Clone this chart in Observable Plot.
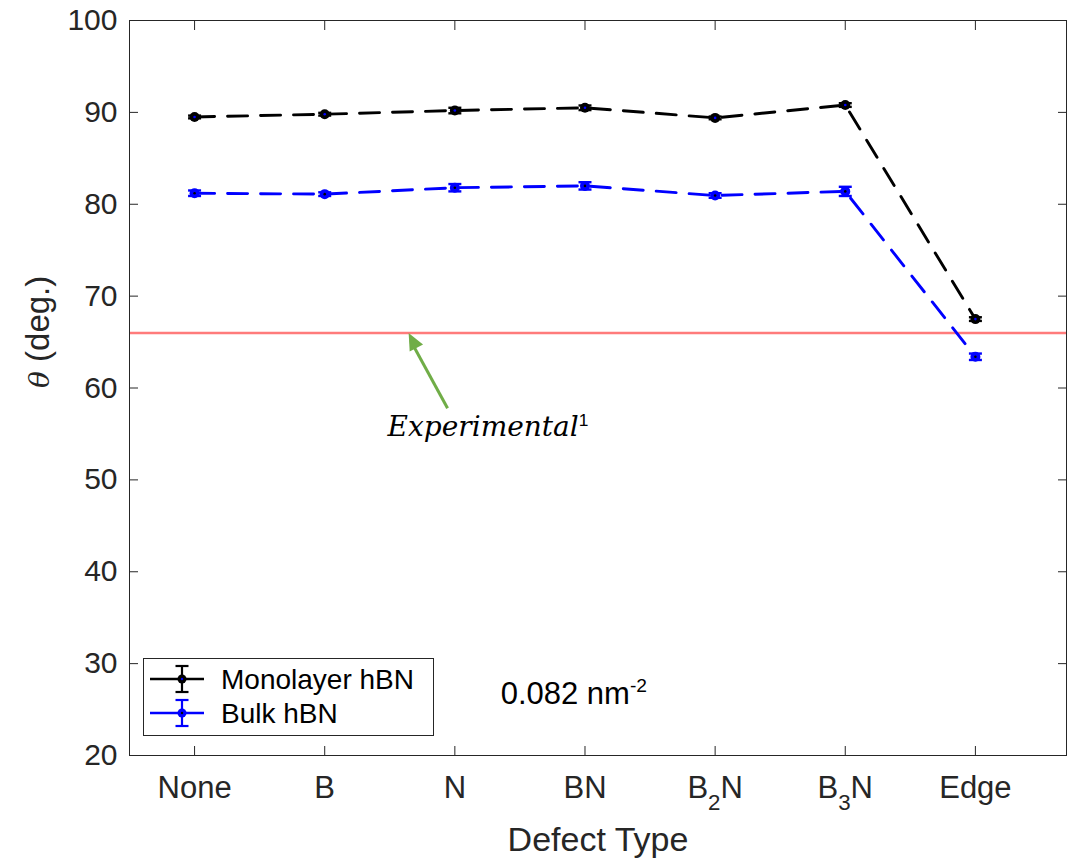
<!DOCTYPE html>
<html><head><meta charset="utf-8">
<script src="https://cdn.jsdelivr.net/npm/d3@7"></script>
<script src="https://cdn.jsdelivr.net/npm/@observablehq/plot@0.6"></script>
<style>html,body{margin:0;padding:0;background:#fff}svg{display:block}</style>
</head><body><div id="chart"></div>
<script>
// ---- data ----
const categories = ["None", "B", "N", "BN", "B₂N", "B₃N", "Edge"];
const monolayer = [89.5, 89.8, 90.2, 90.5, 89.4, 90.8, 67.5];
const monolayerErr = [0.15, 0.15, 0.3, 0.25, 0.15, 0.2, 0.2];
const bulk = [81.2, 81.1, 81.8, 82.0, 80.95, 81.4, 63.4];
const bulkErr = [0.3, 0.2, 0.4, 0.4, 0.25, 0.5, 0.35];
const experimental = [66];
const yTicks = [20, 30, 40, 50, 60, 70, 80, 90, 100];
const seriesNames = ["Monolayer hBN", "Bulk hBN"];
const seriesColors = ["#000000", "#0000ff"];
const xLabel = "Defect Type";
const yLabel = "θ (deg.)";
const densityNote = [{x: 3.352, y: 26.64, t: "0.082 nm⁻²"}];
const expNote = [{x: 2.483, y: 55.7, t: "Experimental¹"}];
const expArrow = [{x1: 2.944, y1: 57.8, x2: 2.67, y2: 64.9, tx: 2.645, ty: 66}];

// ---- build ----
const xIdx = categories.map((_, i) => i + 1);
const rows = (vals, errs) => vals.map((v, i) => ({i: i + 1, v, lo: v - errs[i], hi: v + errs[i]}));
const series = [rows(monolayer, monolayerErr), rows(bulk, bulkErr)];
const capSymbol = {draw(ctx) { ctx.moveTo(-6.5, 0); ctx.lineTo(6.5, 0); }};
const headSymbol = {draw(ctx) { ctx.moveTo(0, 0); ctx.lineTo(-7.5, 17); ctx.lineTo(7.5, 17); ctx.closePath(); }};

function seriesMarks(data, color, inner) {
  return [
    Plot.line(data, {x: "i", y: "v", stroke: color, strokeWidth: 2.9, strokeDasharray: "20 13"}),
    Plot.ruleX(data, {x: "i", y1: "lo", y2: "hi", stroke: color, strokeWidth: 2.2}),
    Plot.dot(data, {x: "i", y: "lo", symbol: capSymbol, stroke: color, strokeWidth: 2.4, fill: "none"}),
    Plot.dot(data, {x: "i", y: "hi", symbol: capSymbol, stroke: color, strokeWidth: 2.4, fill: "none"}),
    Plot.dot(data, {x: "i", y: "v", r: 5, fill: color, stroke: "none"}),
    Plot.dot(data, {x: "i", y: "v", r: 1.3, fill: inner, stroke: "none"})
  ];
}

const plot = Plot.plot({
  width: 1074, height: 860,
  marginLeft: 129, marginRight: 8, marginTop: 20, marginBottom: 105,
  style: {fontFamily: "'Liberation Sans', Arial, sans-serif", color: "#262626", background: "#fff", overflow: "visible"},
  x: {type: "linear", domain: [0.5, 7.7]},
  y: {domain: [20, 100]},
  marks: [
    Plot.ruleY(experimental, {stroke: "#ff7b7b", strokeWidth: 2.5}),
    ...seriesMarks(series[0], seriesColors[0], seriesColors[1]),
    ...seriesMarks(series[1], seriesColors[1], seriesColors[0]),
    Plot.link(expArrow, {x1: "x1", y1: "y1", x2: "x2", y2: "y2", stroke: "#70ad47", strokeWidth: 3}),
    Plot.dot(expArrow, {x: "tx", y: "ty", symbol: headSymbol, fill: "#70ad47", stroke: "none", rotate: -27}),
    Plot.text(expNote, {x: "x", y: "y", text: "t", textAnchor: "start", fontFamily: "'DejaVu Serif', serif", fontStyle: "italic", fontSize: 28, fill: "#000"}),
    Plot.text(densityNote, {x: "x", y: "y", text: "t", textAnchor: "start", fontSize: 31, fill: "#000"}),
    Plot.frame({stroke: "#262626", strokeWidth: 1}),
    Plot.axisY({ticks: yTicks, anchor: "left", tickSize: -9, tickPadding: 21, fontSize: 30, label: null, stroke: "#262626"}),
    Plot.axisY({ticks: yTicks, anchor: "right", tickSize: -9, text: null, label: null, stroke: "#262626"}),
    Plot.axisX({ticks: xIdx, anchor: "bottom", tickSize: -9, tickPadding: 29, fontSize: 31, label: null, stroke: "#262626", tickFormat: d => categories[d - 1]}),
    Plot.axisX({ticks: xIdx, anchor: "top", tickSize: -9, text: null, label: null, stroke: "#262626"}),
    Plot.text([xLabel], {frameAnchor: "bottom", dy: 71, lineAnchor: "top", fontSize: 34}),
    Plot.text([yLabel], {frameAnchor: "left", dx: -104, rotate: -90, lineAnchor: "top", fontSize: 33})
  ]
});
document.getElementById("chart").appendChild(plot);

// ---- rich text (sub/superscripts, italic theta) ----
const svg = d3.select(plot);
const subMap = {"₂": "2", "₃": "3"};
svg.selectAll("text").each(function () {
  const el = d3.select(this);
  const s = this.textContent;
  if (/[₂₃]/.test(s) && this.children.length === 0) {
    const m = s.match(/^(.*)([₂₃])(.*)$/);
    el.text(null);
    el.append("tspan").text(m[1]);
    el.append("tspan").attr("dy", 12).attr("font-size", "0.72em").text(subMap[m[2]]);
    el.append("tspan").attr("dy", -12).text(m[3]);
  } else if (s === densityNote[0].t) {
    el.text(null);
    el.append("tspan").text("0.082 nm");
    el.append("tspan").attr("dy", -12).attr("font-size", "0.62em").text("-2");
  } else if (s === expNote[0].t) {
    el.text(null);
    el.append("tspan").text("Experimental");
    el.append("tspan").attr("dy", -10).attr("font-size", "0.62em").attr("font-style", "normal")
      .attr("font-family", "'Liberation Sans', Arial, sans-serif").text("1");
  } else if (s === yLabel) {
    el.text(null);
    el.append("tspan").attr("font-style", "italic").attr("font-family", "'DejaVu Serif', serif").attr("font-size", "0.85em").text("θ");
    el.append("tspan").text(" (deg.)");
  }
});

// ---- legend (inside the axes, lower left) ----
const lg = svg.append("g").attr("font-family", "'Liberation Sans', Arial, sans-serif").attr("text-anchor", "start");
lg.append("rect").attr("x", 143.5).attr("y", 658.5).attr("width", 290).attr("height", 77)
  .attr("fill", "#fff").attr("stroke", "#262626").attr("stroke-width", 1);
const rowsY = [679, 713];
seriesNames.forEach((name, k) => {
  const y = rowsY[k], c = seriesColors[k], inner = seriesColors[1 - k];
  lg.append("line").attr("x1", 150).attr("x2", 204).attr("y1", y).attr("y2", y).attr("stroke", c).attr("stroke-width", 2.6);
  lg.append("line").attr("x1", 182).attr("x2", 182).attr("y1", y - 13).attr("y2", y + 13).attr("stroke", c).attr("stroke-width", 2.2);
  lg.append("line").attr("x1", 175.5).attr("x2", 188.5).attr("y1", y - 13).attr("y2", y - 13).attr("stroke", c).attr("stroke-width", 2.2);
  lg.append("line").attr("x1", 175.5).attr("x2", 188.5).attr("y1", y + 13).attr("y2", y + 13).attr("stroke", c).attr("stroke-width", 2.2);
  lg.append("circle").attr("cx", 182).attr("cy", y).attr("r", 4.5).attr("fill", c);
  lg.append("circle").attr("cx", 182).attr("cy", y).attr("r", 1.2).attr("fill", inner);
  lg.append("text").attr("x", 221).attr("y", y + 10).attr("font-size", 28).attr("fill", "#000").text(name);
});
</script>
</body></html>
